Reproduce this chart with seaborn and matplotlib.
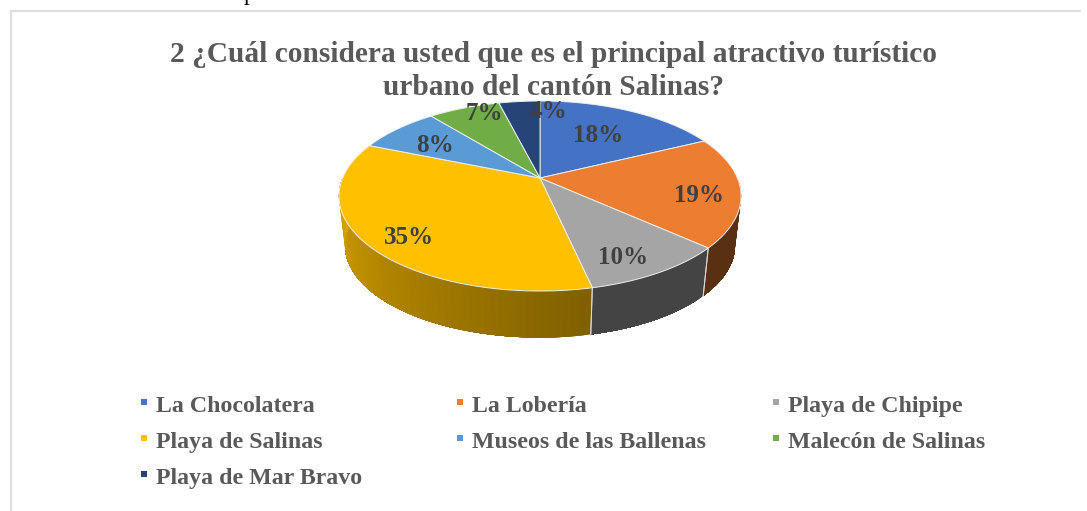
import numpy as np
import matplotlib
matplotlib.use("Agg")
import matplotlib.pyplot as plt
import seaborn as sns

labels = ["La Chocolatera", "La Lobería", "Playa de Chipipe", "Playa de Salinas",
          "Museos de las Ballenas", "Malecón de Salinas", "Playa de Mar Bravo"]
values = [18, 19, 10, 35, 8, 7, 4]
title = "2 ¿Cuál considera usted que es el principal atractivo turístico\nurbano del cantón Salinas?"

colors = sns.color_palette(["#4472C4", "#ED7D31", "#A5A5A5", "#FFC000", "#5B9BD5", "#70AD47", "#264478"])
text_grey = "#595959"

sns.set_theme(style="white")
plt.rcParams["font.family"] = ["Liberation Serif", "DejaVu Serif"]

# pie geometry, in pixels of the picture
cx, cy = 540, 178
a, b, k = 91.6, 197.4, 0.1895
depth = 50
label_pos = [(598, 136), (699, 196), (623, 257), (409, 238), (435, 145), (484, 114), (548, 112)]


def project(theta, r=1.0, drop=0.0):
    # circle seen in perspective, so the middle sits above the ellipse centre
    u, v = r * np.sin(theta), r * np.cos(theta)
    w = 1 + k * v
    shrink = 1 - 0.03 * drop / depth
    return cx + shrink * b * u / w, cy + drop - shrink * a * v / w


def darken(c, f):
    return tuple(min(1, x * f) for x in c)


fig, ax = plt.subplots(figsize=(10.87, 5.11), dpi=100)
fig.subplots_adjust(0, 0, 1, 1)
ax.set_xlim(0, 1087)
ax.set_ylim(511, 0)
ax.axis("off")

# chart frame
ax.plot([11, 11, 1080], [520, 11, 11], color="#DEDEDE", lw=1.6)
ax.text(250, -6, "p", fontsize=17, color="black", ha="center", va="center", clip_on=True)

edges = np.cumsum([0] + values) / sum(values) * 2 * np.pi

# side wall, front half only, split in short pieces for the shading
for i, val in enumerate(values):
    start, end = edges[i], edges[i + 1]
    lo, hi = max(start, np.pi / 2), min(end, 3 * np.pi / 2)
    if lo >= hi:
        continue
    steps = np.linspace(lo, hi, 60)
    # each piece runs to the end of the slice and the next one paints over it, so no seams show
    for t0 in steps[:-1]:
        th = np.linspace(t0, hi, 40)
        xs_top, ys_top = project(th)
        xs_low, ys_low = project(th, drop=depth)
        if i == 3:
            # yellow wall goes dark towards the front right
            f = 0.5 + 0.36 * (t0 - lo) / (hi - lo)
        elif i == 2:
            f = 0.41
        else:
            f = 0.38
        ax.fill(np.r_[xs_top, xs_low[::-1]], np.r_[ys_top, ys_low[::-1]],
                color=darken(colors[i], f), lw=0, zorder=2)
    # thin light line where two slices meet on the wall
    for t in (start, end):
        if lo <= t <= hi:
            x0, y0 = project(t)
            x3, y3 = project(t, drop=depth)
            ax.plot([x0, x3], [y0, y3], color="#D8D8D8", lw=0.7, zorder=3)

# top of the pie
for i, val in enumerate(values):
    th = np.linspace(edges[i], edges[i + 1], 120)
    xs, ys = project(th)
    ax.fill(np.r_[cx, xs], np.r_[cy, ys], facecolor=colors[i], edgecolor="#EDEDED", lw=0.7, zorder=4)

for val, (lx, ly) in zip(values, label_pos):
    ax.text(lx, ly, f"{val}%", fontsize=18, fontweight="bold", color="#404040",
            ha="center", va="center", zorder=5)

ax.text(554, 71, title, fontsize=21.15, fontweight="bold", color=text_grey, ha="center",
        va="center", linespacing=1.3, zorder=6)

# legend, three columns
col_x = [142, 458, 774]
row_y = [412, 448, 484]
for i, name in enumerate(labels):
    x, y = col_x[i % 3], row_y[i // 3]
    ax.scatter([x + 2], [y - 10], marker="s", s=23, color=colors[i], linewidths=0, zorder=5)
    ax.text(x + 14, y, name, fontsize=17.2, fontweight="bold", color=text_grey, va="baseline")

fig.savefig("out.png", dpi=100)
